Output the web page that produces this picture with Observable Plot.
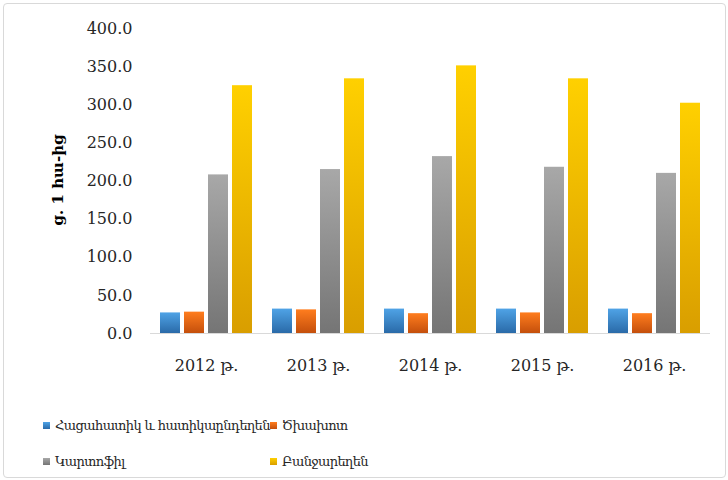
<!DOCTYPE html>
<html><head><meta charset="utf-8">
<script src="https://cdn.jsdelivr.net/npm/d3@7"></script>
<script src="https://cdn.jsdelivr.net/npm/@observablehq/plot@0.6"></script>
<style>
body{margin:0;background:#fff;width:728px;height:480px;position:relative;overflow:hidden;font-family:"DejaVu Serif",serif}
#chart{position:absolute;left:0;top:0}
#frame{position:absolute;left:3px;top:3px;width:721px;height:473px;border:1px solid #d9d9d9;border-radius:4px;pointer-events:none}
#ylabel{position:absolute;left:58px;top:180px;transform:translate(-50%,-50%) rotate(-90deg);font-weight:bold;font-size:15px;white-space:nowrap;color:#000}
#legend{position:absolute;left:43px;top:414px;display:grid;grid-template-columns:227px auto;row-gap:14px;font-size:13px;letter-spacing:-0.6px;color:#262626}
.item{display:flex;align-items:center;height:22px;white-space:nowrap}
.sw{width:7px;height:7px;margin-right:5px;flex:none}
</style>
</head><body>
<div id="chart"></div>
<div id="ylabel">ց. 1 հա-ից</div>
<div id="legend"></div>
<div id="frame"></div>
<script>
const years = ["2012 թ.", "2013 թ.", "2014 թ.", "2015 թ.", "2016 թ."];
const seriesNames = ["Հացահատիկ և հատիկաընդեղեն", "Ծխախոտ", "Կարտոֆիլ", "Բանջարեղեն"];
const cereals = [27, 32, 32, 32, 32];
const tobacco = [28, 31, 26, 27, 26];
const potato = [208, 215, 232, 218, 210];
const vegetables = [325, 334, 351, 334, 302];
const yTicks = [0, 50, 100, 150, 200, 250, 300, 350, 400];

const seriesValues = [cereals, tobacco, potato, vegetables];
const gradStops = [["#4fa3e6", "#2a6aa8"], ["#ff7d1e", "#c44f0c"], ["#a8a8a8", "#757575"], ["#ffd000", "#d99e00"]];
const gradIds = ["gBlue", "gOrange", "gGray", "gYellow"];

const data = [];
years.forEach((y, i) => seriesValues.forEach((vals, s) => data.push({year: y, series: seriesNames[s], value: vals[i]})));

const plot = Plot.plot({
  width: 728,
  height: 395,
  marginLeft: 148,
  marginRight: 16,
  marginTop: 28,
  marginBottom: 62,
  style: {fontFamily: "'DejaVu Serif', serif", fontSize: "16px", color: "#262626", background: "transparent"},
  fx: {domain: years, padding: 0, axis: "bottom", tickSize: 0, tickPadding: 26, label: null},
  x: {domain: seriesNames, axis: null, paddingInner: 0.18, paddingOuter: 0.39},
  y: {domain: [0, 400], ticks: yTicks, tickFormat: d3.format(".1f"), tickSize: 0, tickPadding: 18, label: null},
  color: {domain: seriesNames, range: gradIds.map(id => `url(#${id})`)},
  marks: [
    Plot.barY(data, {fx: "year", x: "series", y: "value", fill: "series"}),
    Plot.ruleY([0], {stroke: "#d9d9d9", strokeWidth: 1})
  ]
});

const defs = d3.select(plot).insert("defs", ":first-child");
gradIds.forEach((id, i) => {
  const g = defs.append("linearGradient").attr("id", id).attr("x1", 0).attr("y1", 0).attr("x2", 0).attr("y2", 1);
  g.append("stop").attr("offset", "0%").attr("stop-color", gradStops[i][0]);
  g.append("stop").attr("offset", "100%").attr("stop-color", gradStops[i][1]);
});
document.getElementById("chart").appendChild(plot);

const legend = document.getElementById("legend");
seriesNames.forEach((name, i) => {
  const item = document.createElement("div");
  item.className = "item";
  const sw = document.createElement("span");
  sw.className = "sw";
  sw.style.background = `linear-gradient(${gradStops[i][0]}, ${gradStops[i][1]})`;
  const t = document.createElement("span");
  t.textContent = name;
  item.appendChild(sw); item.appendChild(t);
  legend.appendChild(item);
});
</script>
</body></html>
